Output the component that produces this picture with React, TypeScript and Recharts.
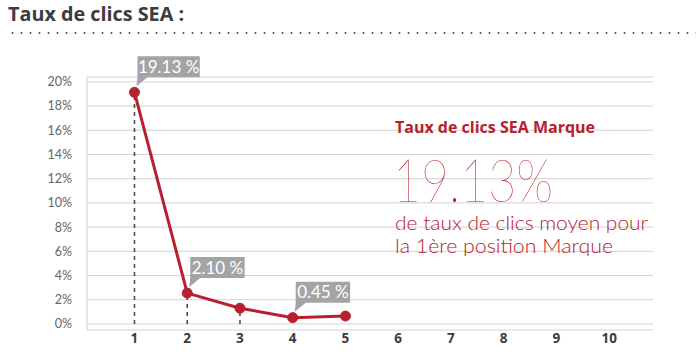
import { LineChart, Line, XAxis, YAxis, CartesianGrid, ReferenceLine, LabelList } from 'recharts';

const positions = [1, 2, 3, 4, 5];
const ctrValues = [19.13, 2.55, 1.3, 0.52, 0.65];
const bubbleLabels = ['19.13 %', '2.10 %', '', '0.45 %', ''];
const dropPositions = [1, 2, 3];
const xTicks = [1, 2, 3, 4, 5, 6, 7, 8, 9, 10];
const yTicks = [0, 2, 4, 6, 8, 10, 12, 14, 16, 18, 20];

const RED = '#b8202e';
const GREY_TEXT = '#555';

const data = positions.map((pos, i) => ({ pos, ctr: ctrValues[i], label: bubbleLabels[i] }));

function Bubble(props: any) {
  const { x, y, value } = props;
  if (!value) return null;
  const w = value.length * 7.9 + 7;
  const h = 21;
  const left = x + 3;
  const bottom = y - 15;
  const top = bottom - h;
  return (
    <g>
      <path
        d={`M${left},${top} H${left + w} V${bottom} H${left + 10} L${left - 1},${bottom + 9} L${left},${bottom} Z`}
        fill="#a4a4a6"
      />
      <text
        x={left + w / 2}
        y={top + h / 2 + 6}
        textAnchor="middle"
        fill="#fff"
        fontSize={17}
        fontFamily="Lato, 'Open Sans', sans-serif"
      >
        {value}
      </text>
    </g>
  );
}

export default function App() {
  return (
    <div style={{ position: 'absolute', left: 0, top: 0, width: 700, height: 356, background: '#fff' }}>
      <div
        style={{
          position: 'absolute',
          left: 8,
          top: 0,
          fontFamily: "'Open Sans', sans-serif",
          fontWeight: 700,
          fontSize: 19.8,
          color: '#3b3b40',
        }}
      >
        Taux de clics SEA :
      </div>
      <div
        style={{
          position: 'absolute',
          left: 8,
          top: 32,
          width: 688,
          height: 2,
          backgroundImage: 'radial-gradient(circle, #555 0.9px, transparent 1.2px)',
          backgroundSize: '9px 2px',
          backgroundRepeat: 'repeat-x',
        }}
      />
      <LineChart width={700} height={356} data={data} margin={{ top: 77, right: 47, bottom: 0, left: 0 }}>
        <CartesianGrid vertical={false} stroke="#d2d2d2" strokeWidth={1} />
        <XAxis
          dataKey="pos"
          type="number"
          domain={[0.1, 10.83]}
          ticks={xTicks}
          axisLine={false}
          tickLine={false}
          tickSize={0}
          tickMargin={3}
          height={26}
          tick={{ fill: '#3b3b40', fontSize: 13.5, fontWeight: 700, fontFamily: "'Open Sans', sans-serif" }}
        />
        <YAxis
          type="number"
          domain={[-0.5, 20.4]}
          ticks={yTicks}
          width={87}
          axisLine={{ stroke: '#cfcfcf' }}
          tickLine={false}
          tickSize={0}
          tickMargin={15}
          tickFormatter={(v: number) => `${v}%`}
          tick={{ fill: '#666', fontSize: 12.5, fontFamily: 'Lato, sans-serif' }}
        />
        {dropPositions.map((p) => (
          <ReferenceLine
            key={p}
            segment={[
              { x: p, y: 0 },
              { x: p, y: ctrValues[positions.indexOf(p)] },
            ]}
            stroke="#444"
            strokeWidth={1.5}
            strokeDasharray="4 4"
          />
        ))}
        <Line
          dataKey="ctr"
          stroke={RED}
          strokeWidth={3}
          dot={{ r: 5, fill: RED, stroke: RED, strokeWidth: 1 }}
          isAnimationActive={false}
        >
          <LabelList dataKey="label" content={Bubble} />
        </Line>
      </LineChart>
      <svg width={700} height={356} style={{ position: 'absolute', left: 0, top: 0, pointerEvents: 'none' }}>
        <text x={395} y={133} fill={RED} fontSize={16} fontWeight={700} fontFamily="'Open Sans', sans-serif">
          Taux de clics SEA Marque
        </text>
        <text
          x={393}
          y={202}
          fill={RED}
          fontSize={60}
          fontWeight={200}
          fontFamily="Lato, 'DejaVu Sans', sans-serif"
          textLength={160}
          lengthAdjust="spacingAndGlyphs"
        >
          19.13%
        </text>
        <text x={395} y={230} fill={RED} fontSize={19} fontWeight={300} fontFamily="Lato, 'Open Sans', sans-serif" textLength={253} lengthAdjust="spacingAndGlyphs">
          de taux de clics moyen pour
        </text>
        <text x={395} y={253} fill={RED} fontSize={19} fontWeight={300} fontFamily="Lato, 'Open Sans', sans-serif" textLength={218} lengthAdjust="spacingAndGlyphs">
          la 1ère position Marque
        </text>
      </svg>
    </div>
  );
}
